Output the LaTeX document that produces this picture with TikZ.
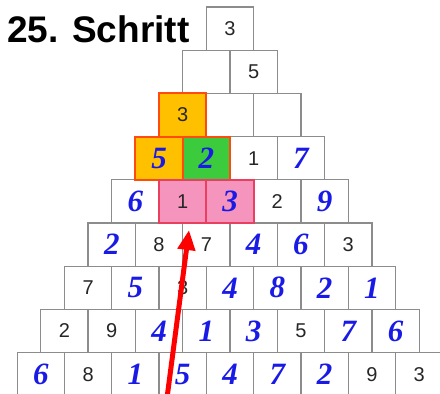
\documentclass[tikz,border=0pt]{standalone}
\usepackage{fontspec}
\usetikzlibrary{arrows.meta}
\newfontfamily\arialfont{Liberation Sans}
\newfontfamily\handfont{Liberation Serif}
\definecolor{givengray}{HTML}{8C8C8C}
\definecolor{handblue}{HTML}{1A1AE6}
\definecolor{boxorange}{HTML}{FFC000}
\definecolor{edgeorange}{HTML}{FF4A10}
\definecolor{boxgreen}{HTML}{3CCB3C}
\definecolor{boxpink}{HTML}{F594BC}
\definecolor{edgepink}{HTML}{E8405E}

\begin{document}
\begin{tikzpicture}[x=1pt,y=-1pt,
  cell/.style={draw=givengray,line width=1.3pt,fill=white,minimum width=47.3pt,minimum height=43.2pt,inner sep=0pt,outer sep=0pt},
  known/.style={font=\arialfont\fontsize{20}{20}\selectfont,text=black!85},
  guess/.style={font=\handfont\bfseries\itshape\fontsize{31}{31}\selectfont,text=handblue},
  orangeknown/.style={known,fill=boxorange},
  orangeguess/.style={guess,fill=boxorange},
  greenguess/.style={guess,fill=boxgreen},
  pinkknown/.style={known,fill=boxpink},
  pinkguess/.style={guess,fill=boxpink}]
  \useasboundingbox (0,0) rectangle (440,394);
  \node[font=\arialfont\bfseries\fontsize{37}{40}\selectfont,anchor=base west,inner sep=0pt] (title) at (7,42) {25. Schritt};
  % pyramid, row by row from the top
  \foreach \r/\cells in {
    1/{known/3},
    2/{known/{},known/5},
    3/{orangeknown/3,known/{},known/{}},
    4/{orangeguess/5,greenguess/2,known/1,guess/7},
    5/{guess/6,pinkknown/1,pinkguess/3,known/2,guess/9},
    6/{guess/2,known/8,known/7,guess/4,guess/6,known/3},
    7/{known/7,guess/5,known/3,guess/4,guess/8,guess/2,guess/1},
    8/{known/2,known/9,guess/4,guess/1,guess/3,known/5,guess/7,guess/6},
    9/{guess/6,known/8,guess/1,guess/5,guess/4,guess/7,guess/2,known/9,known/3}}{
    \foreach \s/\v [count=\i] in \cells {
      \node[cell,\s] (c\r\i) at ({230+(\i-(\r+1)/2)*47.3},{7+(\r-0.5)*43.2}) {\v};
    }
  }
  % coloured borders on top
  \foreach \n in {c31,c41,c42}
    \draw[edgeorange,line width=2pt] (\n.south west) rectangle (\n.north east);
  \foreach \n in {c52,c53}
    \draw[edgepink,line width=2pt] (\n.south west) rectangle (\n.north east);
  \coordinate (tail) at (167,398);
  \coordinate (tip) at (189,230);
  \draw[red,line width=5pt,-{Triangle[length=20pt,width=17pt]}] (tail) -- (tip);
\end{tikzpicture}
\end{document}
